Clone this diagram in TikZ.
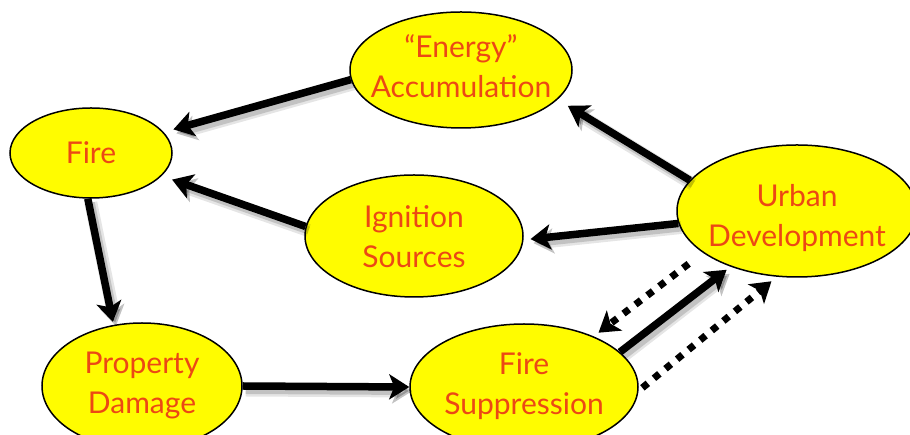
\documentclass[tikz,border=0pt]{standalone}
\usepackage{fontspec}
\setmainfont{Lato}
\usetikzlibrary{shapes.geometric,arrows.meta}
\definecolor{ylw}{RGB}{255,252,0}
\definecolor{txt}{RGB}{236,72,20}
\begin{document}
\begin{tikzpicture}[x=1pt,y=1pt,
  bubble/.style={ellipse, draw=black, line width=1.5pt, fill=ylw, inner sep=0pt, text=txt, font=\fontsize{30}{40}\selectfont},
  flow/.style={line width=7.5pt, -{Stealth[length=20pt,width=25pt,inset=5pt]},
    preaction={draw=black, opacity=0.10, line width=13pt, transform canvas={shift={(3pt,-4pt)}}},
    preaction={draw=black, opacity=0.15, line width=8pt, transform canvas={shift={(3pt,-4pt)}}}},
  dotflow/.style={line width=7pt, dash pattern=on 7pt off 8pt, -{Stealth[length=20pt,width=25pt,inset=5pt]}}
]
\fill[white] (0,0) rectangle (910,435);
\useasboundingbox (0,0) rectangle (910,435);
\clip (0,0) rectangle (910,435);

\node[bubble, minimum width=162, minimum height=90] (fire) at (91,282) {\makebox[0pt]{Fire}};
\node[bubble, minimum width=222, minimum height=116] (energy) at (461,365) {\makebox[0pt]{\begin{tabular}{@{}c@{}}“Energy”\\Accumulation\end{tabular}}};
\node[bubble, minimum width=218, minimum height=122] (ignition) at (414,199) {\makebox[0pt]{\raisebox{0pt}[\height][\dimexpr\depth-8pt\relax]{\begin{tabular}{@{}c@{}}Ignition\\Sources\end{tabular}}}};
\node[bubble, minimum width=240, minimum height=132] (urban) at (797,224) {\makebox[0pt]{\raisebox{0pt}[\height][\dimexpr\depth-16pt\relax]{\begin{tabular}{@{}c@{}}Urban\\Development\end{tabular}}}};
\node[bubble, minimum width=200, minimum height=126] (property) at (142,49) {\makebox[0pt]{\begin{tabular}{@{}c@{}}Property\\Damage\end{tabular}}};
\node[bubble, minimum width=228, minimum height=126] (suppression) at (524,48) {\makebox[0pt]{\begin{tabular}{@{}c@{}}Fire\\Suppression\end{tabular}}};

\draw[flow, shorten >=10pt] (energy.185) -- (fire.16);
\draw[flow, shorten >=11pt] (ignition.175) -- (fire.-18);
\draw[flow, shorten >=3pt] (fire.266) -- (property.115);
\draw[flow] (property.0) -- (suppression.180);
\draw[flow, shorten >=12pt] (urban.164) -- (energy.-17);
\draw[flow, shorten >=7pt] (urban.186) -- (ignition.-2);
\draw[flow, shorten >=5pt] (suppression.20) -- (urban.220);
\draw[dotflow, shorten <=18pt, shorten >=6pt] (urban.204) -- (suppression.36);
\draw[dotflow, shorten <=5pt, shorten >=7pt] (suppression.-2) -- (urban.253);
\end{tikzpicture}
\end{document}
